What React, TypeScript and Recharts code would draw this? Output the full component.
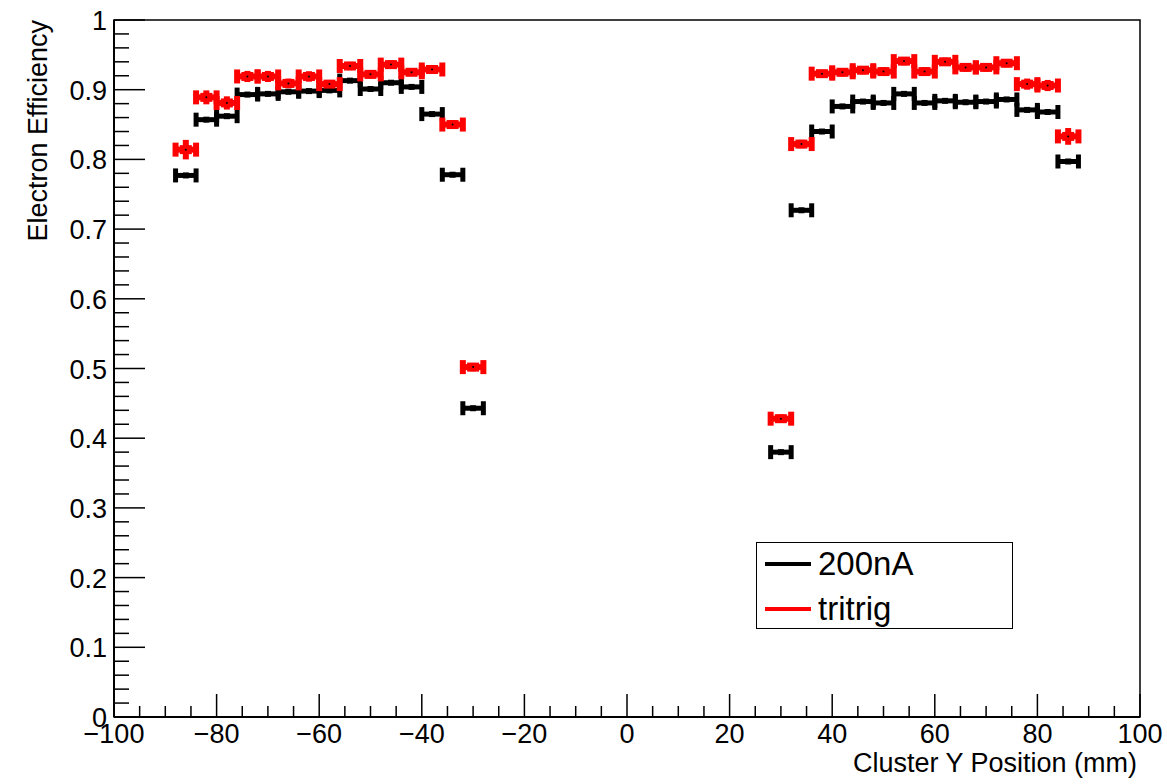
import { ScatterChart, Scatter, XAxis, YAxis, ErrorBar, Legend, ReferenceArea, Label } from "recharts";

const FONT = '"Liberation Sans", Arial, Helvetica, sans-serif';

// bin centres (mm), 4 mm bins
const binCenters = [
  -86, -82, -78, -74, -70, -66, -62, -58, -54, -50, -46, -42, -38, -34, -30,
  30, 34, 38, 42, 46, 50, 54, 58, 62, 66, 70, 74, 78, 82, 86,
];
const binHalfWidth = 2;

const eff200nA = [
  0.777, 0.857, 0.862, 0.893, 0.894, 0.897, 0.898, 0.899, 0.913, 0.901, 0.910, 0.904, 0.865, 0.778, 0.443,
  0.380, 0.727, 0.840, 0.876, 0.883, 0.881, 0.894, 0.881, 0.884, 0.882, 0.883, 0.886, 0.871, 0.868, 0.797,
];
const err200nA = [
  0.003, 0.003, 0.003, 0.003, 0.003, 0.003, 0.003, 0.003, 0.003, 0.003, 0.003, 0.003, 0.003, 0.003, 0.003,
  0.003, 0.003, 0.003, 0.003, 0.003, 0.003, 0.003, 0.003, 0.003, 0.003, 0.003, 0.003, 0.003, 0.003, 0.003,
];
const effTritrig = [
  0.814, 0.889, 0.881, 0.919, 0.919, 0.909, 0.919, 0.908, 0.934, 0.922, 0.936, 0.925, 0.929, 0.850, 0.502,
  0.428, 0.822, 0.923, 0.925, 0.928, 0.926, 0.941, 0.926, 0.940, 0.932, 0.932, 0.938, 0.908, 0.906, 0.833,
];
const errTritrig = [
  0.014, 0.010, 0.0095, 0.008, 0.008, 0.007, 0.0075, 0.006, 0.006, 0.006, 0.006, 0.005, 0.005, 0.006, 0.006,
  0.006, 0.006, 0.005, 0.006, 0.006, 0.006, 0.006, 0.006, 0.006, 0.006, 0.006, 0.006, 0.008, 0.008, 0.012,
];

const seriesNames = ["200nA", "tritrig"];
const seriesColors = ["#000000", "#ff0000"];

const xMajorTicks = [-100, -80, -60, -40, -20, 0, 20, 40, 60, 80, 100];
const xMinorTicks = [
  -95, -90, -85, -75, -70, -65, -55, -50, -45, -35, -30, -25, -15, -10, -5,
  5, 10, 15, 25, 30, 35, 45, 50, 55, 65, 70, 75, 85, 90, 95,
];
const yMajorTicks = [0, 0.1, 0.2, 0.3, 0.4, 0.5, 0.6, 0.7, 0.8, 0.9, 1];
const yMinorTicks = [
  0.02, 0.04, 0.06, 0.08, 0.12, 0.14, 0.16, 0.18, 0.22, 0.24, 0.26, 0.28,
  0.32, 0.34, 0.36, 0.38, 0.42, 0.44, 0.46, 0.48, 0.52, 0.54, 0.56, 0.58,
  0.62, 0.64, 0.66, 0.68, 0.72, 0.74, 0.76, 0.78, 0.82, 0.84, 0.86, 0.88,
  0.92, 0.94, 0.96, 0.98,
];

const data200nA = binCenters.map((x, i) => ({ x, y: eff200nA[i], ex: binHalfWidth, ey: err200nA[i] }));
const dataTritrig = binCenters.map((x, i) => ({ x, y: effTritrig[i], ex: binHalfWidth, ey: errTritrig[i] }));

const isMajor = (list: number[], v: number) => list.some((t) => Math.abs(t - v) < 1e-9);

function XTick(props: any) {
  const { x, y, payload } = props;
  const v = payload.value;
  const major = isMajor(xMajorTicks, v);
  const txt = v < 0 ? "\u2212" + Math.abs(v) : String(v);
  return (
    <g>
      <line x1={x} x2={x} y1={y} y2={y - (major ? 23 : 11)} stroke="#000" strokeWidth={1.5} />
      {major && (
        <text x={x} y={y + 26} textAnchor="middle" fontSize={27} fontFamily={FONT} fill="#000">
          {txt}
        </text>
      )}
    </g>
  );
}

function YTick(props: any) {
  const { x, y, payload } = props;
  const v = payload.value;
  const major = isMajor(yMajorTicks, v);
  const txt = v === 0 ? "0" : v === 1 ? "1" : v.toFixed(1);
  return (
    <g>
      <line x1={x} x2={x + (major ? 31 : 15)} y1={y} y2={y} stroke="#000" strokeWidth={1.5} />
      {major && (
        <text x={x - 7} y={y + 1} textAnchor="end" dominantBaseline="central" fontSize={27} fontFamily={FONT} fill="#000">
          {txt}
        </text>
      )}
    </g>
  );
}

function BlackPoint(props: any) {
  const { cx, cy } = props;
  return <rect x={cx - 3} y={cy - 3} width={6} height={6} fill="#000" />;
}

function RedPoint(props: any) {
  const { cx, cy } = props;
  return (
    <g>
      <rect x={cx - 6} y={cy - 4.5} width={12} height={9} fill="#ff0000" />
      <circle cx={cx} cy={cy} r={1} fill="#000" />
    </g>
  );
}

function LegendBox() {
  return (
    <div
      style={{
        width: 257,
        height: 87,
        border: "1.5px solid #000",
        boxSizing: "border-box",
        background: "#fff",
        position: "relative",
        fontFamily: FONT,
      }}
    >
      {seriesNames.map((name, i) => (
        <div
          key={name}
          style={{
            position: "absolute",
            left: 8,
            top: 21 + i * 45 - 20,
            height: 40,
            display: "flex",
            alignItems: "center",
          }}
        >
          <span style={{ display: "inline-block", width: 46, height: 4, background: seriesColors[i] }} />
          <span style={{ marginLeft: 7, fontSize: 33, lineHeight: "40px", color: "#000" }}>{name}</span>
        </div>
      ))}
    </div>
  );
}

export default function App() {
  return (
    <div style={{ position: "absolute", left: 0, top: 0, width: 1167, height: 784, background: "#fff" }}>
      <ScatterChart width={1167} height={784} margin={{ top: 20, right: 27, bottom: 0, left: 0 }}>
        <XAxis
          type="number"
          dataKey="x"
          domain={[-100, 100]}
          ticks={[...xMajorTicks, ...xMinorTicks]}
          interval={0}
          tickSize={0}
          tickMargin={0}
          tickLine={false}
          tick={<XTick />}
          axisLine={{ stroke: "#000", strokeWidth: 2 }}
          height={67}
          allowDataOverflow
        >
          <Label
            content={(p: any) => {
              const vb = p.viewBox;
              return (
                <text x={vb.x + vb.width - 3} y={vb.y + 55} textAnchor="end" fontSize={27} fontFamily={FONT} fill="#000">
                  Cluster Y Position (mm)
                </text>
              );
            }}
          />
        </XAxis>
        <YAxis
          type="number"
          dataKey="y"
          domain={[0, 1]}
          ticks={[...yMajorTicks, ...yMinorTicks]}
          interval={0}
          tickSize={0}
          tickMargin={0}
          tickLine={false}
          tick={<YTick />}
          axisLine={{ stroke: "#000", strokeWidth: 2 }}
          width={114}
          allowDataOverflow
        >
          <Label
            content={(p: any) => {
              const vb = p.viewBox;
              const tx = 47;
              const ty = vb.y;
              return (
                <text
                  x={tx}
                  y={ty}
                  transform={`rotate(-90 ${tx} ${ty})`}
                  textAnchor="end"
                  fontSize={27}
                  fontFamily={FONT}
                  fill="#000"
                >
                  Electron Efficiency
                </text>
              );
            }}
          />
        </YAxis>
        <ReferenceArea x1={-100} x2={100} y1={0} y2={1} fill="none" stroke="#000" strokeWidth={1.5} />
        <Scatter name={seriesNames[0]} data={data200nA} fill="#000" shape={<BlackPoint />} isAnimationActive={false}>
          <ErrorBar dataKey="ex" direction="x" width={7} strokeWidth={5} stroke="#000" isAnimationActive={false} />
          <ErrorBar dataKey="ey" direction="y" width={0} strokeWidth={5} stroke="#000" isAnimationActive={false} />
        </Scatter>
        <Scatter name={seriesNames[1]} data={dataTritrig} fill="#ff0000" shape={<RedPoint />} isAnimationActive={false}>
          <ErrorBar dataKey="ex" direction="x" width={7} strokeWidth={6} stroke="#ff0000" isAnimationActive={false} />
          <ErrorBar dataKey="ey" direction="y" width={0} strokeWidth={6} stroke="#ff0000" isAnimationActive={false} />
        </Scatter>
        <Legend
          layout="horizontal"
          verticalAlign="middle"
          align="center"
          content={<LegendBox />}
          wrapperStyle={{ left: 756, top: 542, width: 257, height: 87 }}
        />
      </ScatterChart>
    </div>
  );
}
